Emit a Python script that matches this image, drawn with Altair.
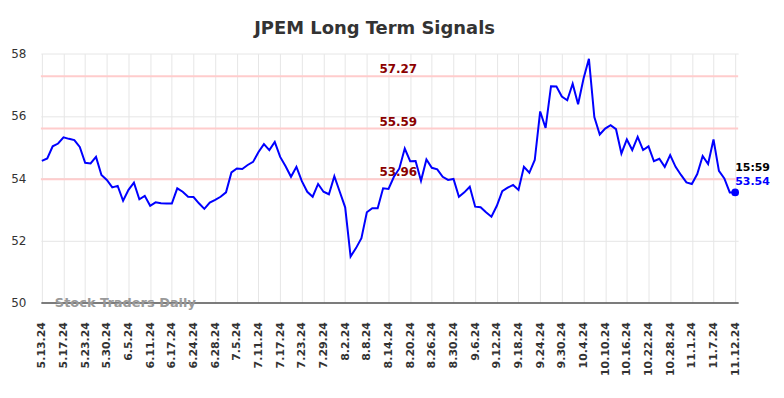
import altair as alt
import pandas as pd

dates = ["5.13.24", "5.17.24", "5.23.24", "5.30.24", "6.5.24", "6.11.24", "6.17.24",
         "6.24.24", "6.28.24", "7.5.24", "7.11.24", "7.17.24", "7.23.24", "7.29.24",
         "8.2.24", "8.8.24", "8.14.24", "8.20.24", "8.26.24", "8.30.24", "9.6.24",
         "9.12.24", "9.18.24", "9.24.24", "9.30.24", "10.4.24", "10.10.24", "10.16.24",
         "10.22.24", "10.28.24", "11.1.24", "11.7.24", "11.12.24"]

values = [54.55, 54.63, 55.02, 55.11, 55.31, 55.26, 55.22, 55.00, 54.49, 54.47,
          54.68, 54.10, 53.94, 53.70, 53.75, 53.27, 53.62, 53.85, 53.32, 53.43,
          53.11, 53.22, 53.19, 53.18, 53.18, 53.67, 53.56, 53.40, 53.39, 53.19,
          53.01, 53.21, 53.30, 53.40, 53.54, 54.18, 54.31, 54.29, 54.42, 54.52,
          54.84, 55.09, 54.90, 55.16, 54.68, 54.38, 54.04, 54.36, 53.90, 53.56,
          53.40, 53.81, 53.56, 53.48, 54.06, 53.56, 53.06, 51.48, 51.75, 52.07,
          52.90, 53.03, 53.03, 53.67, 53.65, 54.04, 54.31, 54.95, 54.54, 54.55,
          53.91, 54.60, 54.33, 54.28, 54.04, 53.94, 53.97, 53.40, 53.54, 53.72,
          53.08, 53.06, 52.90, 52.76, 53.11, 53.58, 53.69, 53.78, 53.62, 54.36,
          54.17, 54.58, 56.14, 55.61, 56.95, 56.94, 56.62, 56.50, 57.03, 56.37,
          57.19, 57.83, 55.96, 55.40, 55.59, 55.70, 55.57, 54.79, 55.24, 54.90,
          55.32, 54.90, 55.02, 54.54, 54.62, 54.36, 54.74, 54.36, 54.10, 53.86,
          53.81, 54.13, 54.71, 54.45, 55.24, 54.23, 53.99, 53.54, 53.54]

levels = [57.27, 55.59, 53.96]
level_labels = ["57.27", "55.59", "53.96"]
last_time = "15:59"
last_label = "53.54"
watermark = "Stock Traders Daily"
y_ticks = [50, 52, 54, 56, 58]

FONT = "DejaVu Sans"

df = pd.DataFrame({"i": list(range(len(values))), "v": values})
last_df = df.tail(1).assign(t=last_time, l=last_label)
lv_df = pd.DataFrame({"v": levels, "lab": level_labels})

xs = alt.Scale(domain=[-0.18, 128.55], nice=False, zero=False)
ys = alt.Scale(domain=[50, 58], nice=False, zero=False)

label_expr = "[" + ",".join(f"'{d}'" for d in dates) + "][round(datum.value/4)]"

x_axis = alt.Axis(values=list(range(0, 4 * len(dates), 4)), tickCount=len(dates) + 2,
                  labelExpr=label_expr,
                  labelAngle=270, labelFontSize=11, labelFontWeight="bold",
                  labelColor="#333333", labelPadding=19, ticks=False, title=None,
                  labelOverlap=False, labelBound=False, labelFlush=False,
                  domain=True, domainColor="#555555", domainWidth=1.5,
                  grid=True, gridColor="#e6e6e6", labelFont=FONT)
y_axis = alt.Axis(values=y_ticks, tickCount=len(y_ticks) + 1, labelFontSize=12,
                  labelColor="#333333",
                  labelPadding=15, ticks=False, domain=False, title=None,
                  labelOverlap=False,
                  grid=True, gridColor="#e6e6e6", labelFont=FONT)

grid = alt.Chart(df).mark_line(opacity=0).encode(
    x=alt.X("i:Q", scale=xs, axis=x_axis),
    y=alt.Y("v:Q", scale=ys, axis=y_axis))

rules = alt.Chart(lv_df).mark_rule(color="#ffcccc", strokeWidth=2).encode(
    y=alt.Y("v:Q", scale=ys))

rule_text = alt.Chart(lv_df).mark_text(color="#8b0000", fontWeight="bold", fontSize=12,
                                       font=FONT, align="center", baseline="alphabetic",
                                       dy=-3).encode(
    x=alt.datum(65.8, scale=xs), y=alt.Y("v:Q", scale=ys), text="lab:N")

line = alt.Chart(df).mark_line(color="#0000ff", strokeWidth=2).encode(
    x=alt.X("i:Q", scale=xs), y=alt.Y("v:Q", scale=ys))

pt = alt.Chart(last_df).mark_point(filled=True, color="#0000ff", size=60, opacity=1).encode(
    x=alt.X("i:Q", scale=xs), y=alt.Y("v:Q", scale=ys))

t1 = alt.Chart(last_df).mark_text(color="#000000", fontWeight="bold", fontSize=11, font=FONT,
                                  align="left", baseline="middle", dy=-24).encode(
    x=alt.X("i:Q", scale=xs), y=alt.Y("v:Q", scale=ys), text="t:N")
t2 = alt.Chart(last_df).mark_text(color="#0000ff", fontWeight="bold", fontSize=11, font=FONT,
                                  align="left", baseline="middle", dy=-10).encode(
    x=alt.X("i:Q", scale=xs), y=alt.Y("v:Q", scale=ys), text="l:N")

wm = alt.Chart(pd.DataFrame({"w": [watermark]})).mark_text(
    color="#999999", fontWeight="bold", fontSize=13, font=FONT,
    align="left", baseline="middle").encode(
    x=alt.datum(2.4, scale=xs), y=alt.datum(50, scale=ys), text="w:N")

chart = alt.layer(grid, rules, rule_text, line, pt, t1, t2, wm).properties(
    width=700, height=250,
    title=alt.TitleParams("JPEM Long Term Signals", fontSize=18, fontWeight="bold",
                          color="#333333", font=FONT, offset=10, dx=-15),
    padding={"left": 2, "top": 11, "right": 5, "bottom": 5},
).configure_view(stroke=None)

chart.save("out.html", embed_options={"renderer": "svg", "actions": False})
